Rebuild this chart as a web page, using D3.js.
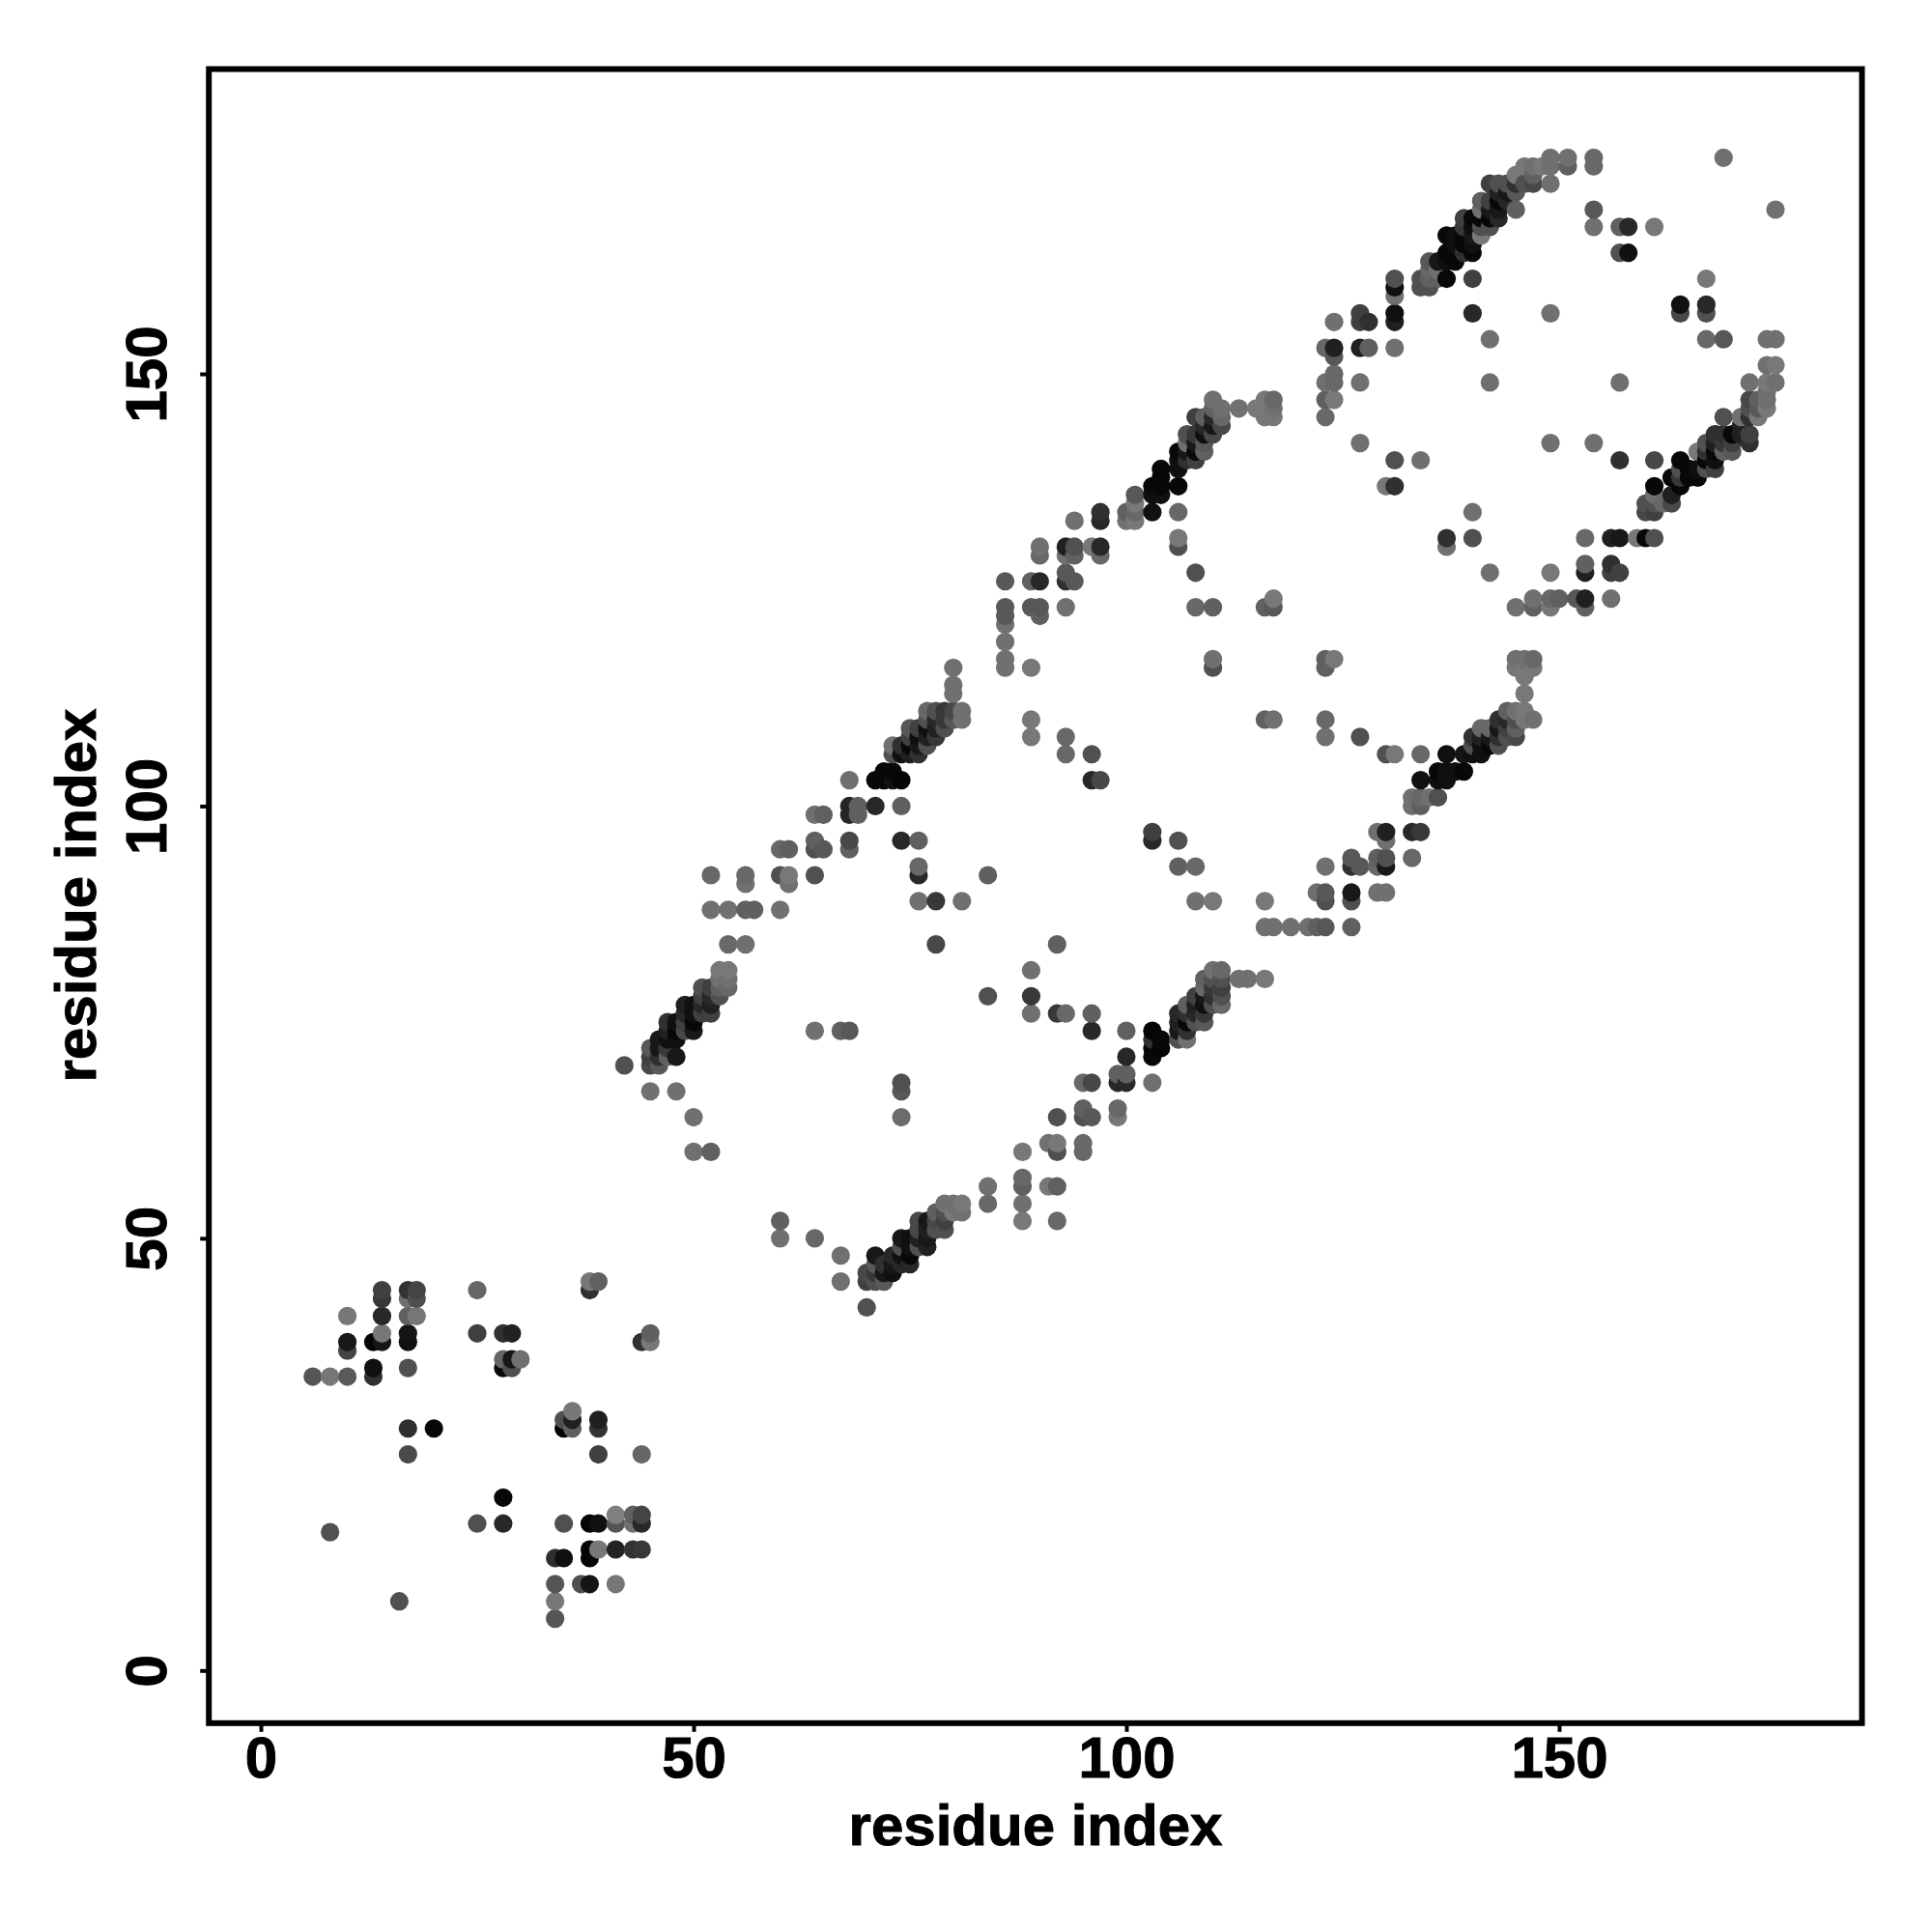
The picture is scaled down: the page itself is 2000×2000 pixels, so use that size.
<!DOCTYPE html>
<html><head><meta charset="utf-8">
<script src="https://cdn.jsdelivr.net/npm/d3@7"></script>
<style>html,body{margin:0;background:#fff}svg{display:block}text{font-family:"Liberation Sans",Arial,sans-serif;font-weight:700;fill:#000;stroke:#000;stroke-width:1}</style>
</head><body><div id="c"></div>
<script>
// each contact: [residue i, residue j, gray level]
const lowCluster=[[6,34,0x55],[8,34,0x77],[10,34,0x5a],[10,37,0x44],[10,38,0x18],[10,41,0x77],[13,34,0x30],[13,35,0x10],[13,38,0x05],[14,38,0x15],[14,39,0x77],[14,41,0x28],[14,43,0x38],[14,44,0x40],[17,35,0x50],[17,38,0x10],[17,39,0x15],[17,41,0x60],[17,43,0x70],[17,44,0x33],[18,41,0x77],[18,43,0x50],[18,44,0x44],[25,44,0x66],[25,39,0x40],[28,39,0x30],[29,39,0x22],[28,35,0x08],[29,35,0x50],[28,36,0x66],[29,36,0x18],[30,36,0x70],[17,28,0x30],[20,28,0x08],[17,25,0x4a],[28,20,0x08],[25,17,0x50],[28,17,0x28],[8,16,0x50],[16,8,0x50],[38,45,0x77],[39,45,0x60],[38,44,0x30],[44,38,0x30],[45,38,0x77],[45,39,0x60],[35,29,0x50],[35,28,0x05],[36,30,0x77],[36,29,0x20],[36,28,0x60],[39,29,0x20],[39,28,0x33],[39,25,0x40],[44,25,0x66],[35,17,0x50],[38,17,0x05],[39,17,0x10],[41,18,0x80],[41,17,0x55],[43,18,0x60],[43,17,0x70],[44,18,0x44],[44,17,0x28],[38,14,0x05],[38,13,0x05],[39,14,0x77],[41,14,0x22],[43,14,0x33],[44,14,0x38],[34,13,0x30],[35,13,0x10],[34,10,0x55],[37,10,0x50],[38,10,0x15],[41,10,0x77],[34,8,0x77],[34,6,0x55]];
const stemA=[[42,70,0x50],[45,67,0x70],[48,67,0x70],[50,64,0x70],[50,60,0x70],[52,60,0x60],[45,70,0x48],[45,71,0x40],[45,72,0x58],[46,70,0x58],[46,71,0x30],[46,72,0x18],[46,73,0x18],[47,71,0x60],[47,72,0x38],[47,73,0x10],[47,74,0x20],[47,75,0x30],[48,71,0x18],[48,73,0x10],[48,74,0x08],[48,75,0x10],[49,74,0x48],[49,75,0x40],[49,76,0x28],[49,77,0x20],[50,74,0x18],[50,75,0x08],[50,76,0x10],[50,77,0x10],[51,76,0x40],[51,77,0x28],[51,78,0x40],[51,79,0x50],[52,76,0x40],[52,77,0x20],[52,78,0x28],[52,79,0x40],[53,78,0x50],[53,79,0x60],[53,80,0x70],[53,81,0x78],[54,79,0x68],[54,80,0x70],[54,81,0x78],[54,84,0x68],[56,84,0x70],[52,88,0x70],[54,88,0x70],[56,88,0x60],[57,88,0x60],[60,88,0x70],[52,92,0x68],[56,92,0x68],[56,91,0x70],[60,92,0x50],[61,92,0x78],[61,91,0x70],[64,92,0x50],[60,95,0x68],[61,95,0x60],[64,95,0x50],[65,95,0x58],[68,95,0x60],[64,96,0x60],[68,96,0x48],[64,99,0x70],[65,99,0x60],[68,99,0x25],[69,99,0x60],[68,100,0x25],[69,100,0x60],[71,100,0x28],[74,100,0x60],[68,103,0x70]];
const stemB=[[71,103,0x08],[72,103,0x08],[73,103,0x10],[74,103,0x05],[72,104,0x08],[73,104,0x08],[73,106,0x50],[73,107,0x70],[74,107,0x30],[74,106,0x10],[75,109,0x58],[75,108,0x40],[75,107,0x08],[75,106,0x20],[76,109,0x40],[76,108,0x10],[76,107,0x18],[76,106,0x30],[77,111,0x68],[77,110,0x50],[77,109,0x10],[77,108,0x20],[77,107,0x50],[78,111,0x50],[78,110,0x28],[78,109,0x20],[78,108,0x38],[79,111,0x38],[79,110,0x38],[79,109,0x50],[80,111,0x48],[80,110,0x58],[81,111,0x70],[81,110,0x70],[80,113,0x70],[80,114,0x70],[80,116,0x70],[74,96,0x28],[76,96,0x60],[76,93,0x68],[76,92,0x28],[76,89,0x70],[78,89,0x38],[81,89,0x70],[84,92,0x60],[78,84,0x48],[64,74,0x70],[67,74,0x60],[68,74,0x58],[74,68,0x50],[74,67,0x58],[74,64,0x6c],[84,78,0x50],[89,78,0x38],[89,81,0x70],[89,76,0x70],[60,52,0x60],[60,50,0x70],[64,50,0x68],[67,48,0x70],[67,45,0x70]];
const lowerChainA=[[70,42,0x50],[70,46,0x48],[70,45,0x40],[71,48,0x18],[71,47,0x58],[71,46,0x38],[71,45,0x50],[72,47,0x30],[72,46,0x18],[72,45,0x58],[73,48,0x28],[73,47,0x18],[73,46,0x10],[74,50,0x18],[74,49,0x50],[74,48,0x10],[74,47,0x28],[75,50,0x10],[75,49,0x10],[75,48,0x08],[75,47,0x28],[76,52,0x48],[76,51,0x48],[76,50,0x20],[76,49,0x50],[77,52,0x18],[77,51,0x20],[77,50,0x18],[77,49,0x20],[78,53,0x60],[78,52,0x48],[78,51,0x50],[79,54,0x70],[79,53,0x50],[79,52,0x40],[79,51,0x50],[80,54,0x70],[80,53,0x78],[81,54,0x78],[81,53,0x70],[84,56,0x70],[84,54,0x68],[88,60,0x78],[88,57,0x68],[88,56,0x60],[88,54,0x70],[88,52,0x78],[91,61,0x70],[92,61,0x78],[92,60,0x50],[91,56,0x78],[92,56,0x60],[92,52,0x68],[92,64,0x50],[95,65,0x60],[95,64,0x50],[96,64,0x58],[95,61,0x68],[95,60,0x68],[95,68,0x68],[96,68,0x48],[99,65,0x68],[99,64,0x78],[99,69,0x60],[100,69,0x60],[99,68,0x28],[100,68,0x28],[100,71,0x28],[103,68,0x70],[100,74,0x60],[96,76,0x60],[96,74,0x28],[92,76,0x38],[93,76,0x68],[92,84,0x60]];
const lowerChainB=[[103,74,0x05],[103,73,0x30],[103,72,0x08],[103,71,0x08],[104,73,0x08],[104,72,0x05],[106,76,0x28],[106,75,0x20],[106,74,0x18],[106,73,0x50],[107,77,0x60],[107,76,0x30],[107,75,0x08],[107,74,0x30],[107,73,0x70],[108,78,0x40],[108,77,0x20],[108,76,0x28],[108,75,0x50],[109,80,0x60],[109,79,0x68],[109,78,0x18],[109,77,0x10],[109,76,0x38],[109,75,0x58],[110,81,0x70],[110,80,0x50],[110,79,0x38],[110,78,0x30],[110,77,0x50],[111,81,0x68],[111,80,0x50],[111,79,0x40],[111,78,0x50],[111,77,0x68],[113,80,0x70],[114,80,0x70],[116,80,0x78],[116,86,0x70],[117,86,0x70],[119,86,0x70],[121,86,0x70],[122,86,0x60],[123,86,0x58],[126,86,0x60],[116,89,0x78],[122,90,0x70],[123,90,0x58],[123,89,0x50],[126,90,0x18],[126,89,0x50],[129,90,0x70],[130,90,0x70],[123,93,0x70],[126,94,0x58],[126,93,0x30],[127,93,0x58],[129,94,0x60],[129,93,0x68],[130,94,0x50],[130,93,0x18],[133,94,0x68],[129,97,0x70],[130,97,0x20],[130,96,0x70],[133,97,0x28],[134,97,0x38],[133,101,0x70],[133,100,0x70],[134,101,0x68],[134,100,0x60],[135,101,0x70],[136,101,0x50],[134,103,0x10],[136,104,0x08],[136,103,0x10],[137,104,0x10],[137,103,0x10],[138,104,0x10],[139,104,0x08],[130,106,0x50],[131,106,0x78],[134,106,0x68],[137,106,0x10],[139,106,0x15],[140,106,0x10],[141,106,0x10]];
const lowerChainC=[[140,108,0x30],[140,107,0x50],[141,109,0x68],[141,108,0x20],[141,107,0x10],[142,109,0x68],[142,108,0x18],[142,107,0x08],[143,110,0x30],[143,109,0x18],[143,108,0x30],[143,107,0x50],[144,111,0x60],[144,110,0x28],[144,109,0x40],[144,108,0x50],[145,111,0x70],[145,110,0x50],[145,109,0x60],[145,108,0x48],[146,111,0x78],[146,110,0x78],[147,110,0x70],[146,113,0x78],[146,115,0x78],[145,117,0x70],[146,117,0x70],[147,117,0x68],[145,116,0x78],[146,116,0x78],[147,116,0x78]];
const innerLoop=[[86,116,0x70],[86,117,0x70],[86,119,0x70],[86,121,0x70],[86,122,0x58],[86,123,0x58],[86,126,0x58],[89,116,0x78],[89,110,0x78],[89,108,0x78],[93,108,0x68],[93,106,0x68],[96,106,0x50],[96,103,0x28],[97,103,0x48],[103,97,0x40],[103,96,0x28],[106,96,0x50],[106,93,0x60],[108,93,0x68],[108,89,0x70],[110,89,0x78],[110,117,0x70],[110,116,0x50],[123,117,0x60],[124,117,0x78],[123,116,0x60],[116,110,0x60],[117,110,0x70],[123,110,0x68],[123,108,0x70],[127,108,0x50],[108,127,0x50],[108,123,0x68],[110,123,0x60],[116,123,0x60],[117,123,0x58],[117,124,0x78],[106,134,0x68],[106,131,0x78],[106,130,0x50]];
const upperChainA=[[89,126,0x60],[90,126,0x28],[89,123,0x58],[90,123,0x58],[90,122,0x60],[93,123,0x70],[90,130,0x70],[90,129,0x68],[93,130,0x20],[94,130,0x50],[93,129,0x70],[94,129,0x60],[93,127,0x58],[93,126,0x30],[94,126,0x58],[94,133,0x70],[97,134,0x30],[97,133,0x28],[96,130,0x78],[97,130,0x28],[97,129,0x68],[100,134,0x60],[100,133,0x70],[101,136,0x58],[101,135,0x78],[101,134,0x68],[101,133,0x78],[103,134,0x10],[103,137,0x08],[103,136,0x10],[104,139,0x08],[104,138,0x08],[104,137,0x08],[104,136,0x10],[106,137,0x08],[106,139,0x10],[106,141,0x08],[106,140,0x10],[107,143,0x50],[107,142,0x70],[107,141,0x18],[107,140,0x30],[108,145,0x40],[108,143,0x38],[108,142,0x18],[108,141,0x08],[108,140,0x40],[109,145,0x60],[109,144,0x28],[109,143,0x10],[109,142,0x58],[109,141,0x60],[110,147,0x70],[110,146,0x60],[110,145,0x28],[110,144,0x18],[110,143,0x48],[111,146,0x70],[111,145,0x68],[111,144,0x48],[113,146,0x70],[115,146,0x78],[116,147,0x78],[117,147,0x68],[116,146,0x78],[117,146,0x70],[116,145,0x78],[117,145,0x78]];
const upperChainB=[[123,145,0x68],[123,147,0x60],[124,147,0x78],[123,149,0x70],[124,149,0x68],[124,150,0x68],[124,152,0x58],[123,153,0x68],[124,153,0x20],[124,156,0x70],[127,149,0x70],[127,153,0x20],[128,153,0x60],[127,157,0x40],[127,156,0x40],[128,156,0x30],[131,153,0x70],[131,156,0x20],[131,157,0x10],[131,159,0x70],[131,160,0x10],[131,161,0x50],[134,161,0x50],[134,160,0x50],[135,163,0x58],[135,162,0x68],[135,161,0x60],[135,160,0x50],[136,163,0x18],[136,162,0x70],[136,161,0x60],[137,161,0x08],[137,164,0x08],[137,163,0x10],[137,166,0x08],[138,164,0x08],[138,163,0x08],[138,165,0x10],[138,166,0x10],[139,168,0x40],[139,167,0x38],[139,166,0x08],[139,165,0x08],[139,164,0x30],[140,168,0x08],[140,167,0x10],[140,166,0x18],[140,165,0x10],[140,164,0x08],[140,161,0x40],[140,157,0x28],[141,170,0x60],[141,169,0x70],[141,168,0x08],[141,167,0x50],[141,166,0x78],[142,172,0x40],[142,170,0x40],[142,169,0x18],[142,168,0x08],[142,167,0x50],[142,154,0x70],[142,149,0x70],[143,172,0x50],[143,171,0x20],[143,170,0x08],[143,169,0x18],[143,168,0x28],[144,172,0x50],[144,171,0x18],[144,170,0x28],[145,173,0x78],[145,172,0x30],[145,171,0x58],[145,169,0x60],[146,174,0x78],[146,172,0x50],[147,174,0x70],[147,173,0x60],[147,172,0x48],[148,174,0x78],[149,175,0x70],[149,174,0x70],[149,172,0x70],[151,175,0x70],[151,174,0x60],[154,175,0x68],[154,174,0x68],[154,169,0x58],[154,167,0x70],[157,167,0x60],[158,167,0x28],[157,164,0x50],[158,164,0x10],[161,167,0x78],[149,157,0x70],[157,149,0x70],[169,175,0x70],[175,169,0x70],[167,161,0x78],[164,158,0x10],[164,157,0x48],[167,158,0x28],[167,157,0x50],[167,154,0x68],[169,154,0x58],[174,154,0x70],[175,154,0x70],[174,151,0x70],[175,151,0x78],[172,149,0x70],[174,149,0x78],[175,149,0x70]];
const outerRing=[[127,142,0x70],[131,140,0x50],[134,140,0x70],[130,137,0x78],[131,137,0x30],[140,134,0x70],[137,131,0x30],[137,130,0x70],[140,131,0x50],[142,127,0x70],[149,127,0x78],[153,131,0x68],[153,128,0x60],[153,127,0x20],[156,128,0x30],[156,127,0x40],[157,127,0x40],[156,124,0x70],[145,123,0x70],[147,124,0x70],[147,123,0x60],[149,124,0x68],[149,123,0x78],[150,124,0x60],[152,124,0x58],[153,124,0x20],[153,123,0x60],[149,142,0x70],[154,142,0x70],[157,140,0x30],[161,140,0x48]];
const upperChainC=[[156,131,0x20],[157,131,0x18],[159,131,0x78],[160,131,0x08],[161,131,0x50],[160,135,0x50],[160,134,0x48],[161,137,0x08],[161,136,0x70],[161,135,0x50],[161,134,0x40],[162,135,0x68],[163,138,0x08],[163,136,0x20],[163,135,0x48],[164,140,0x08],[164,139,0x50],[164,138,0x38],[164,137,0x08],[165,139,0x08],[165,138,0x08],[166,141,0x78],[166,139,0x10],[166,138,0x08],[167,142,0x50],[167,141,0x30],[167,140,0x08],[167,139,0x50],[168,143,0x30],[168,142,0x20],[168,141,0x08],[168,140,0x10],[168,139,0x40],[169,145,0x50],[169,143,0x30],[169,142,0x38],[169,141,0x60],[170,143,0x08],[170,142,0x40],[170,141,0x58],[171,145,0x70],[171,144,0x20],[171,143,0x20],[172,147,0x48],[172,146,0x50],[172,145,0x30],[172,143,0x40],[172,142,0x30],[173,147,0x60],[173,146,0x58],[173,145,0x78],[174,148,0x70],[174,147,0x70],[174,146,0x78]];
const tickValues=[0,50,100,150];
const axisTitle="residue index";

const W=2000,H=2000;
const frame={l:216.2,r:1927.5,t:71.5,b:1783.8};
const x=d3.scaleLinear().domain([0,150]).range([270,1614]);
const y=d3.scaleLinear().domain([0,150]).range([1729.3,387]);
const svg=d3.select("#c").append("svg").attr("width",W).attr("height",H);
svg.append("rect").attr("width",W).attr("height",H).attr("fill","#fff");

const all=[...lowCluster,...stemA,...stemB,...lowerChainA,...lowerChainB,...lowerChainC,...innerLoop,...upperChainA,...upperChainB,...outerRing,...upperChainC];
const uniq=Array.from(d3.rollup(all,v=>v[v.length-1],d=>d[0]+"_"+d[1]).values());
uniq.sort((a,b)=>d3.ascending(a[0],b[0])||d3.ascending(a[1],b[1]));
svg.append("g").selectAll("circle").data(uniq).join("circle")
  .attr("cx",d=>x(d[0])).attr("cy",d=>y(d[1])).attr("r",9.6)
  .attr("fill",d=>d3.rgb(d[2],d[2],d[2]).formatHex());

const ax=d3.axisBottom(x).tickValues(tickValues).tickSize(9).tickPadding(0);
const gx=svg.append("g").attr("transform",`translate(0,${frame.b})`).call(ax);
const ay=d3.axisLeft(y).tickValues(tickValues).tickSize(9).tickPadding(0);
const gy=svg.append("g").attr("transform",`translate(${frame.l},0)`).call(ay);
[gx,gy].forEach(g=>{g.select(".domain").remove();g.selectAll("line").attr("stroke","#000").attr("stroke-width",4);
  g.selectAll("text").attr("font-size",60).style("font-family",'"Liberation Sans",Arial,sans-serif').style("font-weight",700);});
gx.selectAll("text").attr("dy",null).attr("y",56).attr("dominant-baseline","auto");
gy.selectAll("text").attr("dy",null).attr("x",null).attr("y",null).attr("text-anchor","middle")
  .attr("transform",function(d){return `translate(-44,0) rotate(-90)`;});
svg.append("rect").attr("x",frame.l).attr("y",frame.t).attr("width",frame.r-frame.l).attr("height",frame.b-frame.t)
  .attr("fill","none").attr("stroke","#000").attr("stroke-width",6);
svg.append("text").attr("x",1072).attr("y",1910).attr("text-anchor","middle").attr("font-size",60).text(axisTitle);
svg.append("text").attr("transform","translate(99,927) rotate(-90)").attr("text-anchor","middle").attr("font-size",60).text(axisTitle);
</script></body></html>
